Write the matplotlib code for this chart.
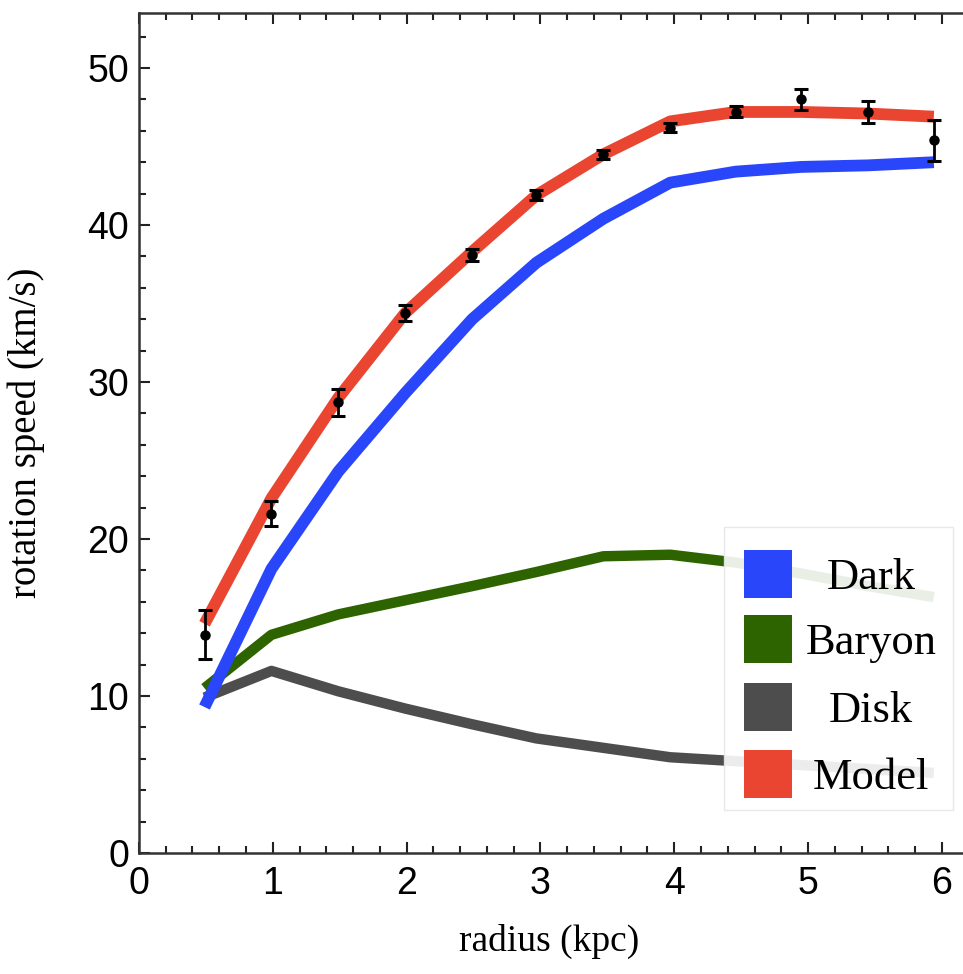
import matplotlib
matplotlib.use("Agg")
import matplotlib.pyplot as plt
from matplotlib.patches import Rectangle
from matplotlib.ticker import MultipleLocator

# rotation curve: radius in kpc, speeds in km/s
radius = [0.49, 0.99, 1.49, 1.99, 2.49, 2.97, 3.47, 3.97, 4.46, 4.95, 5.45, 5.94]
v_dark = [9.3, 18.1, 24.3, 29.3, 34.0, 37.6, 40.4, 42.7, 43.4, 43.7, 43.8, 44.0]
v_baryon = [10.5, 13.9, 15.2, 16.1, 17.0, 17.9, 18.9, 19.0, 18.5, 17.8, 17.0, 16.3]
v_disk = [9.9, 11.6, 10.3, 9.2, 8.2, 7.3, 6.7, 6.1, 5.85, 5.6, 5.35, 5.1]
v_model = [14.6, 22.6, 29.0, 34.4, 38.3, 41.9, 44.5, 46.6, 47.2, 47.2, 47.1, 46.9]

# observed speeds with errors
v_obs = [13.9, 21.6, 28.7, 34.4, 38.1, 41.9, 44.5, 46.2, 47.2, 48.0, 47.2, 45.4]
v_err = [1.55, 0.8, 0.85, 0.5, 0.4, 0.3, 0.3, 0.3, 0.35, 0.65, 0.7, 1.3]

labels = ["Dark", "Baryon", "Disk", "Model"]
colors = ["#2a46fb", "#2d6400", "#4d4d4d", "#ea4530"]

serif = "Liberation Serif"
sans = "Liberation Sans"

fig = plt.figure(figsize=(9.63, 9.74), dpi=100)
# the right part of the frame runs past the figure edge
ax = fig.add_axes([0.1443, 0.1242, 0.8685, 0.8624])

ax.plot(radius, v_baryon, color=colors[1], lw=7.5, solid_capstyle="butt", zorder=2)
ax.plot(radius, v_disk, color=colors[2], lw=7.5, solid_capstyle="butt", zorder=2.5)
ax.plot(radius, v_dark, color=colors[0], lw=8.5, solid_capstyle="butt", zorder=3)
ax.plot(radius, v_model, color=colors[3], lw=8.5, solid_capstyle="butt", zorder=3.5)
ax.errorbar(radius, v_obs, yerr=v_err, fmt="o", color="black", ms=6.5,
            elinewidth=2, capsize=5, capthick=2.2, zorder=4)

ax.set_xlim(0, 6.25)
ax.set_ylim(0, 53.5)
ax.xaxis.set_major_locator(MultipleLocator(1))
ax.xaxis.set_minor_locator(MultipleLocator(0.2))
ax.yaxis.set_major_locator(MultipleLocator(10))
ax.yaxis.set_minor_locator(MultipleLocator(2))
ax.tick_params(which="both", direction="in", top=True, right=True,
               colors="#222222", width=1.5)
ax.tick_params(which="major", length=8)
ax.tick_params(which="minor", length=5)
ax.tick_params(axis="x", pad=9)
ax.tick_params(axis="y", pad=7)
for lab in ax.get_xticklabels() + ax.get_yticklabels():
    lab.set_fontfamily(sans)
    lab.set_fontsize(27)
    lab.set_color("black")
for sp in ax.spines.values():
    sp.set_linewidth(1.8)
    sp.set_color("#333333")

ax.set_xlabel("radius (kpc)", fontfamily=serif, fontsize=27)
ax.set_ylabel("rotation speed (km/s)", fontfamily=serif, fontsize=28)
ax.xaxis.set_label_coords(0.49, -0.084)
ax.yaxis.set_label_coords(-0.112, 0.5)

# legend box drawn by hand so the labels sit centred next to the swatches
ax.add_patch(Rectangle((0.699, 0.0512), 0.274, 0.337, transform=ax.transAxes,
                       facecolor="white", alpha=0.9, edgecolor="#e6e6e6",
                       lw=1, zorder=5))
rows_y = [0.3324, 0.2548, 0.1738, 0.0946]
for lab, col, yc in zip(labels, colors, rows_y):
    ax.add_patch(Rectangle((0.7237, yc - 0.0286), 0.0575, 0.0571,
                           transform=ax.transAxes, facecolor=col,
                           edgecolor="none", zorder=6))
    ax.text(0.8755, yc - 0.0179, lab, transform=ax.transAxes, ha="center",
            va="baseline", fontfamily=serif, fontsize=32, zorder=6)

fig.savefig("out.png", dpi=100)
